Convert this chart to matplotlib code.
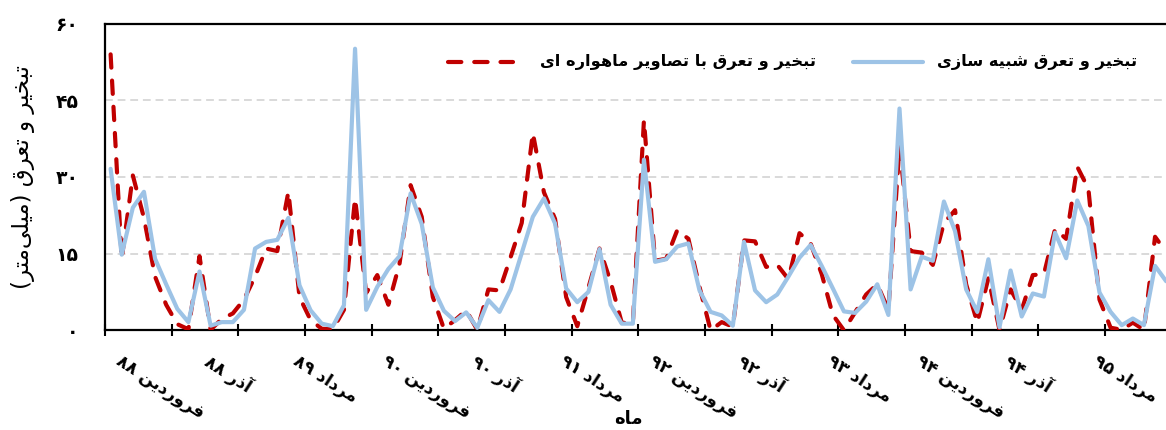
import re
import matplotlib
matplotlib.use("Agg")
import matplotlib.pyplot as plt
from matplotlib.ticker import FixedLocator, FuncFormatter, NullFormatter
from matplotlib.transforms import ScaledTranslation

# monthly evapotranspiration (mm), Farvardin 88 onwards
simulated = [31.6, 14.8, 24.0, 27.1, 14.0, 9.0, 4.2, 1.6, 11.5, 0.9, 1.6, 1.6,
             4.0, 16.0, 17.3, 17.7, 22.0, 8.8, 3.9, 1.3, 0.8, 4.9, 55.1, 4.0,
             8.5, 12.0, 14.5, 26.8, 20.8, 8.4, 3.8, 1.8, 3.5, 0.5, 5.9, 3.6,
             8.0, 15.1, 22.2, 25.8, 20.9, 8.2, 5.5, 7.5, 15.9, 5.0, 1.3, 1.3,
             33.4, 13.4, 13.9, 16.4, 17.0, 7.8, 3.6, 2.9, 0.9, 17.3, 7.8, 5.5,
             7.0, 10.5, 14.2, 16.7, 12.6, 8.2, 3.7, 3.4, 5.6, 9.0, 3.0, 43.4,
             8.0, 14.4, 13.6, 25.2, 19.4, 8.0, 3.6, 13.9, 0.6, 11.7, 2.7, 7.2,
             6.6, 19.1, 14.1, 25.4, 20.4, 7.4, 3.6, 1.0, 2.3, 1.0, 12.6, 9.6]

satellite = [54.0, 14.0, 30.3, 22.0, 10.5, 5.0, 1.2, 0.2, 14.5, 0.1, 2.2, 3.3,
             6.0, 10.5, 16.0, 15.5, 27.1, 6.5, 2.0, 0.3, 0.2, 4.0, 25.8, 7.3,
             10.8, 5.0, 13.0, 28.4, 22.2, 6.5, 0.3, 2.0, 3.9, 0.1, 8.0, 7.8,
             14.3, 21.0, 38.6, 27.0, 21.8, 6.5, 0.8, 8.3, 16.0, 9.5, 1.5, 1.3,
             41.1, 13.6, 14.0, 19.6, 17.9, 8.5, 0.0, 1.6, 0.7, 17.6, 17.4, 12.4,
             12.8, 10.0, 19.0, 17.0, 11.0, 3.0, 0.0, 3.5, 7.0, 9.0, 4.0, 36.0,
             15.5, 15.2, 12.8, 21.0, 23.5, 9.0, 1.5, 10.2, 0.1, 8.0, 4.0, 10.8,
             11.0, 19.8, 17.9, 32.0, 27.7, 6.0, 0.5, 0.1, 1.5, 0.1, 18.3, 15.3]

month_labels = ["فروردین ۸۸", "آذر ۸۸", "مرداد ۸۹", "فروردین ۹۰", "آذر ۹۰",
                "مرداد ۹۱", "فروردین ۹۲", "آذر ۹۲", "مرداد ۹۳", "فروردین ۹۴",
                "آذر ۹۴", "مرداد ۹۵"]
label_step = 8
tick_step = 6
y_ticks = [0, 15, 30, 45, 60]

name_sim = "تبخیر و تعرق شبیه سازی"
name_sat = "تبخیر و تعرق با تصاویر ماهواره ای"
y_title = "تبخیر و تعرق (میلی\u200cمتر)"
x_title = "ماه"

RED = "#C00000"
BLUE = "#9DC3E6"

# isolated, final, initial, medial presentation forms
FORMS = {
    "ا": "\uFE8D\uFE8E", "آ": "\uFE81\uFE82", "د": "\uFEA9\uFEAA",
    "ذ": "\uFEAB\uFEAC", "ر": "\uFEAD\uFEAE", "ز": "\uFEAF\uFEB0",
    "و": "\uFEED\uFEEE",
    "ب": "\uFE8F\uFE90\uFE91\uFE92", "پ": "\uFB56\uFB57\uFB58\uFB59",
    "ت": "\uFE95\uFE96\uFE97\uFE98", "خ": "\uFEA5\uFEA6\uFEA7\uFEA8",
    "س": "\uFEB1\uFEB2\uFEB3\uFEB4", "ش": "\uFEB5\uFEB6\uFEB7\uFEB8",
    "ص": "\uFEB9\uFEBA\uFEBB\uFEBC", "ع": "\uFEC9\uFECA\uFECB\uFECC",
    "ف": "\uFED1\uFED2\uFED3\uFED4", "ق": "\uFED5\uFED6\uFED7\uFED8",
    "ل": "\uFEDD\uFEDE\uFEDF\uFEE0", "م": "\uFEE1\uFEE2\uFEE3\uFEE4",
    "ن": "\uFEE5\uFEE6\uFEE7\uFEE8", "ه": "\uFEE9\uFEEA\uFEEB\uFEEC",
    "ی": "\uFBFC\uFBFD\uFBFE\uFBFF",
}
MIRROR = {"(": ")", ")": "("}


def rtl(text):
    """Shape Persian letters and return them in display order."""
    out = []
    for i, ch in enumerate(text):
        f = FORMS.get(ch)
        if f is None:
            out.append(ch)
            continue
        prev = text[i - 1] if i > 0 else ""
        nxt = text[i + 1] if i + 1 < len(text) else ""
        jp = len(FORMS.get(prev, "")) == 4
        jn = len(f) == 4 and nxt in FORMS
        out.append(f[3] if jp and jn else f[1] if jp else f[2] if jn else f[0])
    s = "".join(out).replace("\u200c", "")
    tokens = re.findall(r"[0-9\u06F0-\u06F9]+|.", s)
    return "".join(MIRROR.get(t, t) for t in reversed(tokens))


def fa_digits(v):
    return str(int(v)).translate(str.maketrans("0123456789", "۰۱۲۳۴۵۶۷۸۹"))


plt.rcParams["font.family"] = ["DejaVu Sans"]
plt.rcParams["font.weight"] = "bold"

n = len(simulated)
months = list(range(n))

fig = plt.figure(figsize=(11.66, 4.30), dpi=100)
ax = fig.add_axes([0.0901, 0.2319, 0.9148, 0.7130])

red_style = dict(color=RED, lw=3.0, ls=(0, (3.2, 3.1)), dash_capstyle="round",
                 solid_joinstyle="round")
blue_style = dict(color=BLUE, lw=3.0, solid_joinstyle="round",
                  solid_capstyle="round")
ax.plot(months, satellite, zorder=3, **red_style)
ax.plot(months, simulated, zorder=4, **blue_style)

ax.set_xlim(-0.5, n - 0.5)
ax.set_ylim(0, 60)

ax.yaxis.set_major_locator(FixedLocator(y_ticks))
ax.yaxis.set_major_formatter(FuncFormatter(lambda v, p: fa_digits(v)))
ax.tick_params(axis="y", length=0, pad=19, labelsize=13.5)
ax.grid(axis="y", color="#D9D9D9", lw=1.4, ls=(0, (4, 2.5)))
ax.set_axisbelow(True)

# tick marks every 6 months, labels every 8
ax.xaxis.set_major_locator(FixedLocator([k * tick_step - 0.5
                                         for k in range(n // tick_step + 1)]))
ax.xaxis.set_major_formatter(NullFormatter())
ax.tick_params(axis="x", direction="inout", length=9, width=1.5)

lab_tr = ax.get_xaxis_transform() + ScaledTranslation(7 / 100, -29 / 100,
                                                       fig.dpi_scale_trans)
for k, txt in enumerate(month_labels):
    ax.text(k * label_step, 0, rtl(txt), transform=lab_tr, rotation=-33,
            rotation_mode="anchor", ha="left", va="center", fontsize=12.5)

for side in ["left", "bottom", "top", "right"]:
    ax.spines[side].set_linewidth(1.6)

ax.set_ylabel(rtl(y_title), fontsize=16.5)
ax.yaxis.set_label_coords(-0.066, 0.5)
fig.text(0.539, 0.004, rtl(x_title), ha="center", va="bottom", fontsize=13)

# legend drawn in axes fractions
ly = 0.875
ax.plot([0.3216, 0.3825], [ly, ly], transform=ax.transAxes, **red_style)
ax.text(0.6666, ly, rtl(name_sat), transform=ax.transAxes, ha="right",
        va="center", fontsize=11.7)
ax.plot([0.7013, 0.7669], [ly, ly], transform=ax.transAxes, **blue_style)
ax.text(0.9676, ly, rtl(name_sim), transform=ax.transAxes, ha="right",
        va="center", fontsize=11.7)

fig.savefig("out.png", dpi=100)
